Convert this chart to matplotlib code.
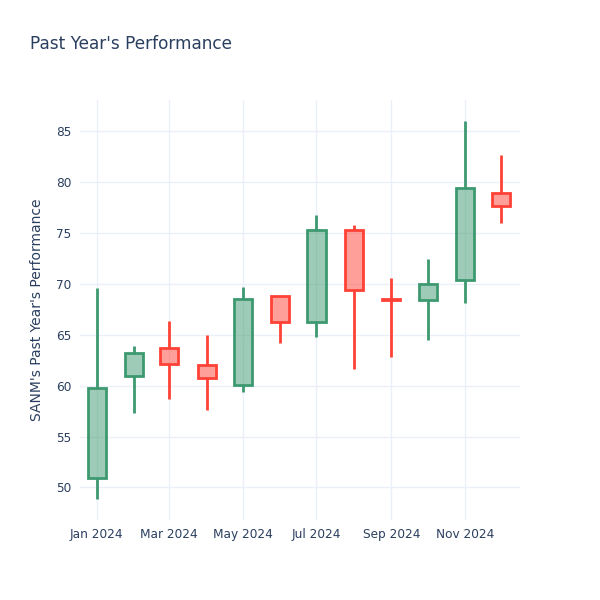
import matplotlib
matplotlib.use("Agg")
import matplotlib.pyplot as plt
import matplotlib.dates as mdates
import numpy as np
import pandas as pd

# monthly candles for SANM, 2024
dates = pd.date_range("2024-01-01", periods=12, freq="MS")
opens = [50.9, 60.9, 63.7, 62.0, 60.1, 68.8, 66.2, 75.3, 68.5, 68.4, 70.4, 78.9]
highs = [69.6, 63.9, 66.3, 65.0, 69.7, 68.8, 76.8, 75.8, 70.6, 72.4, 86.0, 82.6]
lows = [48.9, 57.3, 58.7, 57.6, 59.4, 64.2, 64.8, 61.6, 62.8, 64.5, 68.1, 76.0]
closes = [59.8, 63.2, 62.1, 60.7, 68.5, 66.2, 75.3, 69.4, 68.4, 70.0, 79.4, 77.6]

tick_dates = pd.date_range("2024-01-01", periods=6, freq="2MS")
tick_labels = [d.strftime("%b %Y") for d in tick_dates]

up_col = "#3D9970"
down_col = "#FF4136"
text_col = "#2a3f5f"
grid_col = "#EBF0F8"


def main():
    fig = plt.figure(figsize=(6, 6), dpi=100)
    ax = fig.add_axes([80 / 600, 80 / 600, 440 / 600, 420 / 600])

    x = mdates.date2num(dates)
    width = 15
    for xi, o, h, l, c in zip(x, opens, highs, lows, closes):
        col = up_col if c >= o else down_col
        top, bot = max(o, c), min(o, c)
        ax.vlines(xi, top, h, color=col, lw=2, zorder=2)
        ax.vlines(xi, l, bot, color=col, lw=2, zorder=2)
        ax.bar(xi, top - bot, bottom=bot, width=width, color=col, alpha=0.5,
               zorder=3, linewidth=0)
        ax.bar(xi, top - bot, bottom=bot, width=width, fill=False, edgecolor=col,
               linewidth=2, zorder=4)

    ax.set_xlim(x[0] - 13.8, x[0] + 350.5)
    ax.set_ylim(46.8, 88.05)
    ax.set_xticks(mdates.date2num(tick_dates))
    ax.set_xticklabels(tick_labels)
    ax.set_yticks(np.arange(50, 86, 5))

    ax.grid(True, color=grid_col, lw=1, zorder=0)
    ax.set_axisbelow(True)
    for s in ax.spines.values():
        s.set_visible(False)
    ax.tick_params(length=0, colors=text_col, labelsize=8.7, pad=6)
    ax.set_ylabel("SANM's Past Year's Performance", color=text_col, fontsize=10, labelpad=9)

    fig.text(30 / 600, 1 - 44 / 600, "Past Year's Performance", color=text_col,
             fontsize=12.2, va="center", ha="left")

    fig.savefig("out.png", dpi=100, facecolor="white")


if __name__ == "__main__":
    main()
